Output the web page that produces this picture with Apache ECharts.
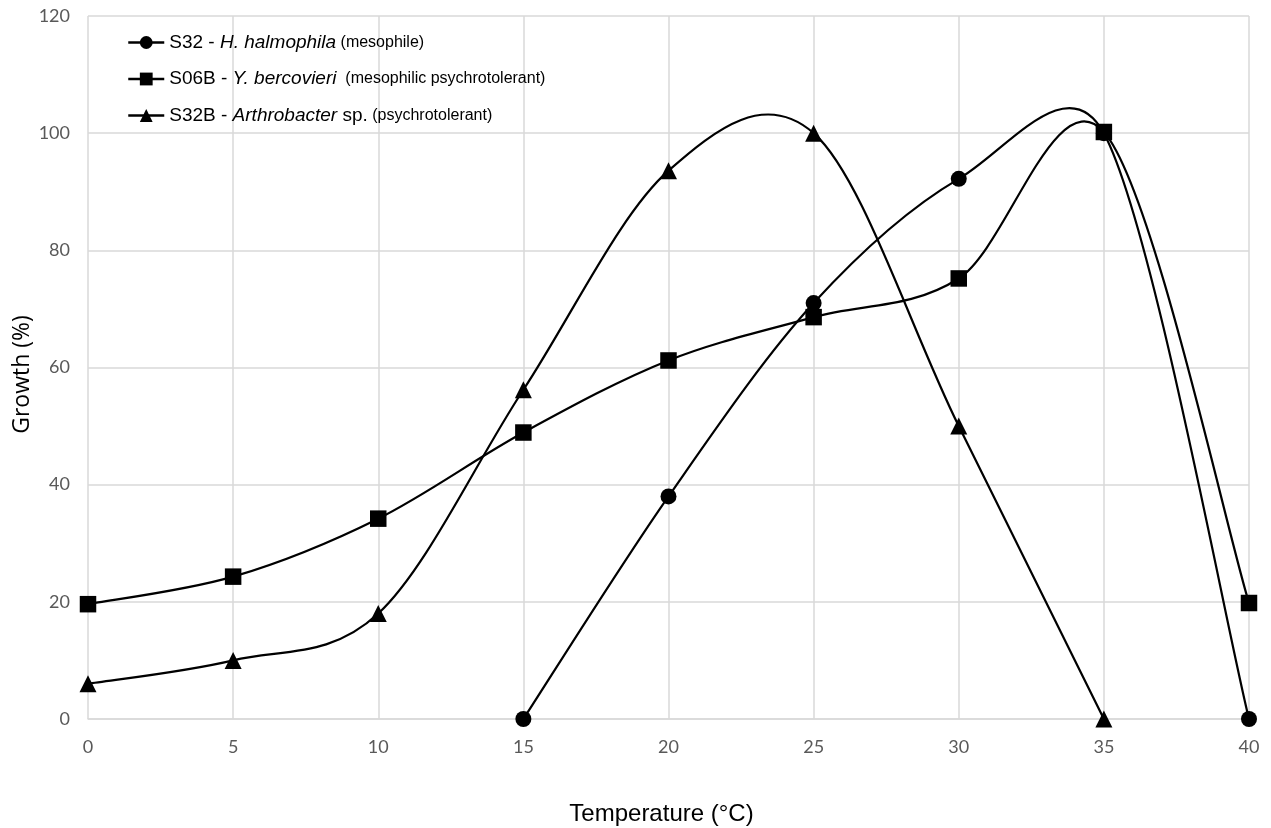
<!DOCTYPE html>
<html>
<head>
<meta charset="utf-8">
<script src="https://cdn.jsdelivr.net/npm/echarts@6/dist/echarts.min.js"></script>
<style>html,body{margin:0;padding:0;background:#fff}#c{width:1271px;height:828px}</style>
</head>
<body>
<div id="c"></div>
<script>
var temperatures = [0, 5, 10, 15, 20, 25, 30, 35, 40];
var s32 = [null, null, null, 0, 38, 71, 92.2, 100, 0];
var s06b = [19.6, 24.3, 34.2, 48.9, 61.2, 68.6, 75.2, 100.2, 19.8];
var s32b = [6, 10, 18, 56.2, 93.6, 100, 50, 0, null];
var seriesNames = ['S32', 'S06B', 'S32B'];
var legendPrefix = ['S32 - ', 'S06B - ', 'S32B - '];
var legendSpecies = ['H. halmophila', 'Y. bercovieri', 'Arthrobacter'];
var legendSuffix = ['', '', ' sp.'];
var legendNote = [' (mesophile)', '  (mesophilic psychrotolerant)', ' (psychrotolerant)'];
var symbols = ['circle', 'rect', 'triangle'];
var symbolSizes = [16, 16.5, 17];
var xTitle = 'Temperature (°C)';
var yTitle = 'Growth (%)';

function pairs(vals) {
  var out = [];
  for (var i = 0; i < temperatures.length; i++) {
    if (vals[i] !== null) out.push([temperatures[i], vals[i]]);
  }
  return out;
}

function dist(a, b) { return Math.sqrt((a[0] - b[0]) * (a[0] - b[0]) + (a[1] - b[1]) * (a[1] - b[1])); }
// control vector (Excel-like smoothing): (next - prev)/6, limited to half the adjacent segment
function ctrl(prev, next, adjLen) {
  var vx = (next[0] - prev[0]) / 6, vy = (next[1] - prev[1]) / 6;
  var len = Math.sqrt(vx * vx + vy * vy), cap = 0.5 * adjLen;
  if (len > cap && len > 0) { vx *= cap / len; vy *= cap / len; }
  return [vx, vy];
}

function smoothRender(params, api) {
  var n = params.dataInsideLength;
  var i = params.dataIndexInside;
  if (i >= n - 1) return null;
  function P(k) {
    k = Math.max(0, Math.min(n - 1, k));
    return api.coord([api.value(0, k), api.value(1, k)]);
  }
  var p0 = P(i - 1), p1 = P(i), p2 = P(i + 1), p3 = P(i + 2);
  var d12 = dist(p1, p2);
  var v1 = ctrl(p0, p2, d12), v2 = ctrl(p1, p3, d12);
  return {
    type: 'bezierCurve',
    shape: {
      x1: p1[0], y1: p1[1], x2: p2[0], y2: p2[1],
      cpx1: p1[0] + v1[0], cpy1: p1[1] + v1[1],
      cpx2: p2[0] - v2[0], cpy2: p2[1] - v2[1]
    },
    style: { stroke: '#000', lineWidth: 2.2, fill: null },
    silent: true
  };
}

var allData = [s32, s06b, s32b];
var series = [];
allData.forEach(function (d, i) {
  series.push({
    name: seriesNames[i] + '_curve',
    type: 'custom',
    renderItem: smoothRender,
    data: pairs(d),
    encode: { x: 0, y: 1 },
    clip: false,
    z: 2
  });
});
allData.forEach(function (d, i) {
  series.push({
    name: seriesNames[i],
    type: 'line',
    data: pairs(d),
    symbol: symbols[i],
    symbolSize: symbolSizes[i],
    showSymbol: true,
    lineStyle: { color: '#000', width: 0, opacity: 0 },
    itemStyle: { color: '#000' },
    z: 3
  });
});

var chart = echarts.init(document.getElementById('c'));
chart.setOption({
  animation: false,
  backgroundColor: '#fff',
  grid: { left: 88, right: 22, top: 16, bottom: 109, containLabel: false, outerBoundsMode: 'none' },
  legend: {
    left: 122, top: 28, orient: 'vertical', itemGap: 17.5,
    itemWidth: 36, itemHeight: 16, itemTextGap: 6,
    data: seriesNames,
    lineStyle: { color: '#000', width: 2.5, opacity: 1 },
    itemStyle: { color: '#000' },
    formatter: function (name) {
      var i = seriesNames.indexOf(name);
      return '{a|' + legendPrefix[i] + '}{i|' + legendSpecies[i] + '}{a|' + legendSuffix[i] + '}{s|' + legendNote[i] + '}';
    },
    textStyle: {
      color: '#000',
      rich: {
        a: { fontFamily: 'Liberation Sans', fontSize: 19, color: '#000' },
        i: { fontFamily: 'Liberation Sans', fontSize: 19, fontStyle: 'italic', color: '#000' },
        s: { fontFamily: 'Liberation Sans', fontSize: 16, color: '#000' }
      }
    }
  },
  xAxis: {
    type: 'value', min: 0, max: 40, interval: 5,
    name: xTitle, nameLocation: 'middle', nameGap: 83, nameMoveOverlap: false,
    nameTextStyle: { fontFamily: 'Liberation Sans', fontSize: 24, color: '#000', padding: [0, 14, 0, 0] },
    axisLine: { show: true, lineStyle: { color: '#d9d9d9', width: 1.5 } },
    axisTick: { show: false },
    axisLabel: { color: '#595959', fontSize: 18, margin: 19, fontFamily: 'Lato' },
    splitLine: { show: true, lineStyle: { color: '#d9d9d9', width: 1.5 } }
  },
  yAxis: {
    type: 'value', min: 0, max: 120, interval: 20,
    name: yTitle, nameLocation: 'middle', nameGap: 54, nameRotate: 90, nameMoveOverlap: false,
    nameTextStyle: { fontFamily: 'Open Sans', fontSize: 23, color: '#000', padding: [0, 14, 0, 0] },
    axisLine: { show: false },
    axisTick: { show: false },
    axisLabel: { color: '#595959', fontSize: 18, margin: 18, fontFamily: 'Lato' },
    splitLine: { show: true, lineStyle: { color: '#d9d9d9', width: 1.5 } }
  },
  series: series
});
</script>
</body>
</html>
